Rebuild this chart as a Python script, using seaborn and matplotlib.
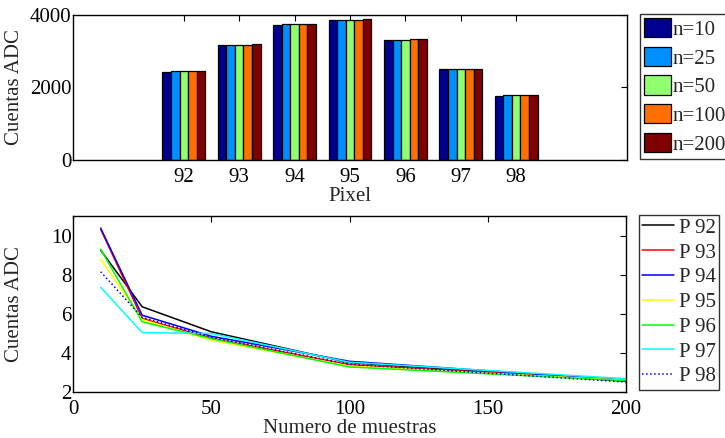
import numpy as np
import pandas as pd
import matplotlib
matplotlib.use("Agg")
import matplotlib.pyplot as plt
import seaborn as sns

sns.set_theme(style="white")
plt.rcParams["font.family"] = ["Liberation Serif", "DejaVu Serif"]
plt.rcParams["mathtext.fontset"] = "stix"

# --- data -------------------------------------------------------------
pixels = [92, 93, 94, 95, 96, 97, 98]
sample_sizes = [10, 25, 50, 100, 200]
size_labels = ["n=10", "n=25", "n=50", "n=100", "n=200"]

# mean ADC counts per pixel, one list per sample size
mean_n10 = [2437, 3172, 3724, 3862, 3310, 2500, 1765]
mean_n25 = [2455, 3185, 3743, 3875, 3312, 2502, 1784]
mean_n50 = [2455, 3185, 3743, 3875, 3312, 2519, 1784]
mean_n100 = [2455, 3185, 3743, 3875, 3328, 2519, 1784]
mean_n200 = [2455, 3209, 3743, 3880, 3328, 2519, 1784]

# noise (ADC counts) vs. number of samples, one list per pixel
noise_p92 = [9.25, 6.36, 5.08, 3.50, 2.55]
noise_p93 = [10.32, 5.76, 4.75, 3.40, 2.60]
noise_p94 = [10.38, 5.93, 4.85, 3.57, 2.60]
noise_p95 = [8.79, 5.70, 4.65, 3.32, 2.60]
noise_p96 = [9.30, 5.59, 4.73, 3.28, 2.58]
noise_p97 = [7.35, 5.04, 4.99, 3.52, 2.68]
noise_p98 = [8.15, 5.82, 4.80, 3.42, 2.51]
pixel_labels = ["P 92", "P 93", "P 94", "P 95", "P 96", "P 97", "P 98"]

bar_colors = ["#00008f", "#008fff", "#8fff70", "#ff7000", "#800000"]
line_colors = ["#000000", "#ff0000", "#0000ff", "#ffff00", "#00ff00", "#00ffff", "#0000ff"]
line_styles = ["-", "-", "-", "-", "-", "-", ":"]

means = [mean_n10, mean_n25, mean_n50, mean_n100, mean_n200]
bars = pd.DataFrame({
    "Pixel": np.tile(pixels, len(size_labels)),
    "n": np.repeat(size_labels, len(pixels)),
    "value": np.concatenate(means),
})

noise = [noise_p92, noise_p93, noise_p94, noise_p95, noise_p96, noise_p97, noise_p98]

# --- figure -----------------------------------------------------------
fig = plt.figure(figsize=(7.25, 4.38), dpi=100)
W, H = 725, 438
ax1 = fig.add_axes([73 / W, 1 - 160 / H, (627 - 73) / W, (160 - 15) / H])
ax2 = fig.add_axes([73 / W, 1 - 392 / H, (626 - 73) / W, (392 - 216) / H])

fs = 15

def style_axes(ax):
    for s in ax.spines.values():
        s.set_visible(True)
        s.set_color("black")
        s.set_linewidth(1.0)
    ax.tick_params(direction="in", length=4, width=0.8, top=True, right=True,
                   labelsize=fs, colors="black")
    ax.tick_params(axis="x", pad=6)
    ax.tick_params(axis="y", pad=1)
    ax.yaxis.set_label_coords(-0.088, 0.5)

# top: grouped bars
sns.barplot(data=bars, x="Pixel", y="value", hue="n", palette=bar_colors,
            width=0.77, edgecolor="black", linewidth=0.9, saturation=1,
            ax=ax1, legend=True)
ax1.set_xlim(-2, 8)
ax1.set_ylim(0, 4000)
ax1.set_yticks([0, 2000, 4000])
ax1.set_xlabel("Pixel", fontsize=fs, labelpad=0)
ax1.set_ylabel("Cuentas ADC", fontsize=fs)
style_axes(ax1)
leg1 = ax1.legend(loc="upper left", bbox_to_anchor=(640 / W, 1 - 14 / H),
                  bbox_transform=fig.transFigure, fontsize=fs, frameon=True,
                  fancybox=False, edgecolor="black", borderaxespad=0,
                  handlelength=1.3, handleheight=1.05, labelspacing=0.33,
                  handletextpad=0.05, borderpad=0.2)
leg1.get_frame().set_linewidth(1.0)
for h in leg1.legend_handles:
    h.set_edgecolor("black")
    h.set_linewidth(0.9)

# bottom: noise vs. number of samples
for vals, lab, c, ls in zip(noise, pixel_labels, line_colors, line_styles):
    sns.lineplot(x=sample_sizes, y=vals, color=c, linestyle=ls, linewidth=1.1,
                 label=lab, ax=ax2)
ax2.set_xlim(0, 200)
ax2.set_ylim(2, 11)
ax2.set_xticks([0, 50, 100, 150, 200])
ax2.set_yticks([2, 4, 6, 8, 10])
ax2.set_xlabel("Numero de muestras", fontsize=fs, labelpad=0)
ax2.set_ylabel("Cuentas ADC", fontsize=fs)
style_axes(ax2)
leg2 = ax2.legend(loc="upper left", bbox_to_anchor=(639 / W, 1 - 215 / H),
                  bbox_transform=fig.transFigure, fontsize=fs, frameon=True,
                  fancybox=False, edgecolor="black", borderaxespad=0,
                  handlelength=1.55, labelspacing=0.25, handletextpad=0.2,
                  borderpad=0.15)
leg2.get_frame().set_linewidth(1.0)

fig.savefig("out.png", dpi=100, facecolor="white")
